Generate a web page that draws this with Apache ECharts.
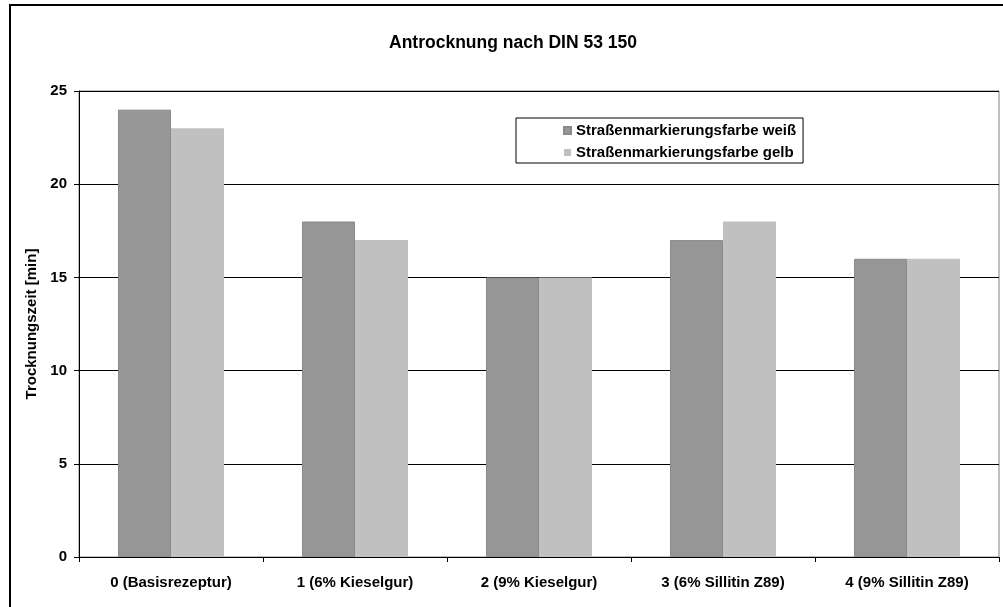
<!DOCTYPE html>
<html>
<head>
<meta charset="utf-8">
<script src="https://cdn.jsdelivr.net/npm/echarts@6/dist/echarts.min.js"></script>
<style>
  html, body { margin: 0; padding: 0; background: #fff; }
  #chart { width: 1003px; height: 607px; }
</style>
</head>
<body>
<div id="chart"></div>
<script>
const categories = ['0 (Basisrezeptur)', '1 (6% Kieselgur)', '2 (9% Kieselgur)', '3 (6% Sillitin Z89)', '4 (9% Sillitin Z89)'];
const weiss = [24, 18, 15, 17, 16];
const gelb = [23, 17, 15, 18, 16];
const seriesNames = ['Straßenmarkierungsfarbe weiß', 'Straßenmarkierungsfarbe gelb'];

const font = 'Arial, "Liberation Sans", sans-serif';

let myChart = echarts.init(document.getElementById('chart'), null, { renderer: 'canvas' });

let option = {
  animation: false,
  backgroundColor: '#fff',
  title: {
    text: 'Antrocknung nach DIN 53 150',
    left: 508,
    textAlign: 'center',
    top: 29,
    textStyle: { fontFamily: font, fontSize: 17.5, fontWeight: 'bold', color: '#000' }
  },
  legend: {
    orient: 'vertical',
    left: 516,
    top: 118,
    padding: [5, 7, 3, 47],
    itemWidth: 7,
    itemHeight: 7,
    itemGap: 7,
    borderColor: '#000',
    borderWidth: 1,
    icon: 'rect',
    textStyle: { fontFamily: font, fontSize: 15, fontWeight: 'bold', color: '#000' },
    data: seriesNames
  },
  grid: {
    left: 79,
    right: 4,
    top: 91,
    bottom: 50,
    show: true,
    borderColor: '#808080',
    borderWidth: 1
  },
  xAxis: {
    type: 'category',
    data: categories,
    axisLine: { lineStyle: { color: '#000', width: 1 } },
    axisTick: { show: true, length: 5, lineStyle: { color: '#000' } },
    axisLabel: { margin: 18, fontFamily: font, fontSize: 15, fontWeight: 'bold', color: '#000' }
  },
  yAxis: {
    type: 'value',
    min: 0,
    max: 25,
    interval: 5,
    name: 'Trocknungszeit [min]',
    nameLocation: 'middle',
    nameGap: 36,
    nameTextStyle: { fontFamily: font, fontSize: 15, fontWeight: 'bold', color: '#000' },
    axisLine: { show: true, lineStyle: { color: '#000', width: 1 } },
    axisTick: { show: true, length: 5, lineStyle: { color: '#000' } },
    axisLabel: { margin: 12, fontFamily: font, fontSize: 15, fontWeight: 'bold', color: '#000' },
    splitLine: { show: true, lineStyle: { color: '#000', width: 1 } }
  },
  series: [
    {
      name: seriesNames[0],
      type: 'bar',
      data: weiss,
      barWidth: 53,
      barGap: '0%',
      itemStyle: { color: '#969696', borderColor: '#8a8a8a', borderWidth: 1 }
    },
    {
      name: seriesNames[1],
      type: 'bar',
      data: gelb,
      barWidth: 53,
      itemStyle: { color: '#c0c0c0' }
    }
  ],
  graphic: [
    {
      type: 'rect',
      shape: { x: 10, y: 5, width: 1020, height: 640 },
      style: { fill: null, stroke: '#000', lineWidth: 2 },
      silent: true
    }
  ]
};

myChart.setOption(option);
</script>
</body>
</html>
